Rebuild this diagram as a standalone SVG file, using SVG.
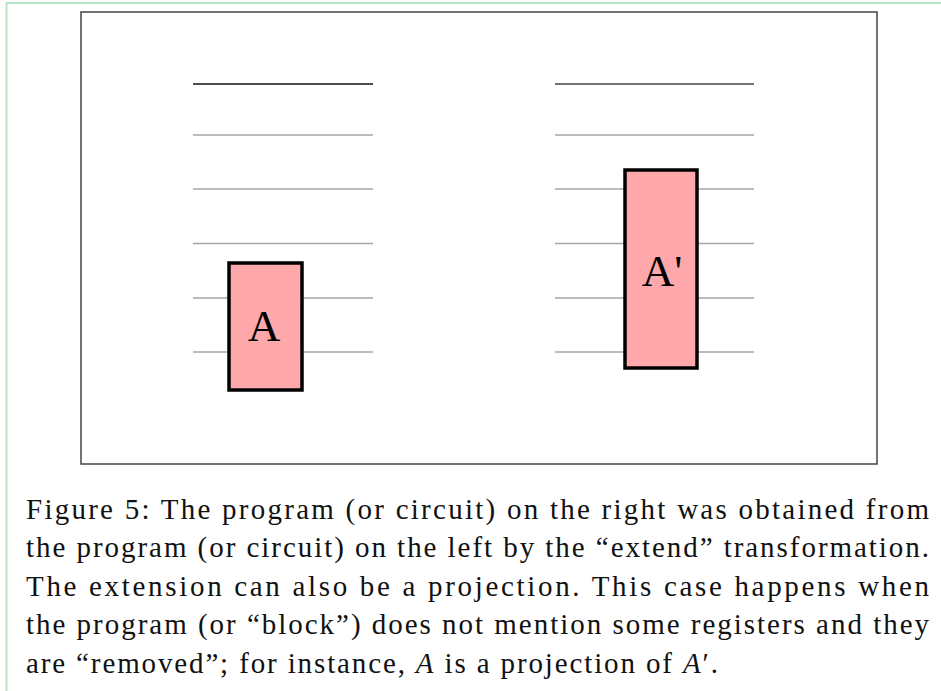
<svg xmlns="http://www.w3.org/2000/svg" width="941" height="691" viewBox="0 0 941 691">
<style>
.wire{stroke:#a6a6a6;stroke-width:1.3;fill:none}
.top{stroke:#111;stroke-width:1.6;fill:none}
.box{fill:#ffa8ab;stroke:#000;stroke-width:3.5}
.lbl{font-family:"Liberation Serif","DejaVu Serif",serif;font-size:45px;fill:#000;text-anchor:middle}
.cap{font-family:"Liberation Serif","DejaVu Serif",serif;font-size:29px;fill:#111}
</style>
<rect width="941" height="691" fill="#fff"/>
<path d="M6.5 691 V3 H941" fill="none" stroke="#b4e6c6" stroke-width="2"/>
<rect x="81" y="12" width="796" height="452" fill="#fff" stroke="#444" stroke-width="1.5"/>
<g id="connectors">
<line class="top" x1="193" y1="84" x2="373" y2="84"/>
<line class="wire" x1="193" y1="135" x2="373" y2="135"/>
<line class="wire" x1="193" y1="189" x2="373" y2="189"/>
<line class="wire" x1="193" y1="243.5" x2="373" y2="243.5" style="stroke-width:1.6"/>
<line class="wire" x1="193" y1="298" x2="373" y2="298"/>
<line class="wire" x1="193" y1="352" x2="373" y2="352"/>
<line class="top" x1="555" y1="84" x2="754" y2="84" style="stroke:#444"/>
<line class="wire" x1="555" y1="135" x2="754" y2="135"/>
<line class="wire" x1="555" y1="189" x2="754" y2="189"/>
<line class="wire" x1="555" y1="243.5" x2="754" y2="243.5" style="stroke-width:1.6"/>
<line class="wire" x1="555" y1="298" x2="754" y2="298"/>
<line class="wire" x1="555" y1="352" x2="754" y2="352"/>
</g>
<g id="nodeA">
<rect class="box" x="229" y="263" width="73" height="127"/>
<text class="lbl" x="264" y="341">A</text>
</g>
<g id="nodeA2">
<rect class="box" x="625" y="170" width="72" height="198"/>
<text class="lbl" x="662" y="286">A'</text>
</g>
<g id="caption">
<text class="cap" x="26" y="519" textLength="903" lengthAdjust="spacing">Figure 5: The program (or circuit) on the right was obtained from</text>
<text class="cap" x="26" y="557" textLength="903" lengthAdjust="spacing">the program (or circuit) on the left by the “extend” transformation.</text>
<text class="cap" x="26" y="596" textLength="903" lengthAdjust="spacing">The extension can also be a projection.  This case happens when</text>
<text class="cap" x="26" y="634" textLength="903" lengthAdjust="spacing">the program (or “block”) does not mention some registers and they</text>
<text class="cap" x="26" y="673" textLength="692" lengthAdjust="spacing">are “removed”; for instance, <tspan font-style="italic">A</tspan> is a projection of <tspan font-style="italic">A</tspan>′.</text>
</g>
</svg>
